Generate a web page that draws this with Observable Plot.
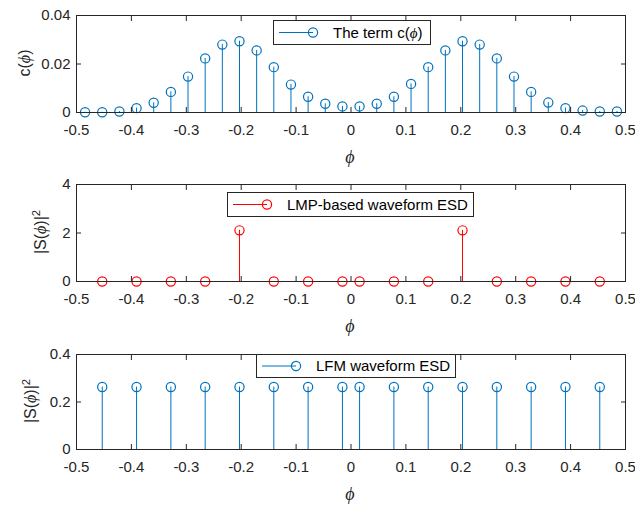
<!DOCTYPE html>
<html>
<head>
<meta charset="utf-8">
<script src="https://cdn.jsdelivr.net/npm/d3@7"></script>
<script src="https://cdn.jsdelivr.net/npm/@observablehq/plot@0.6"></script>
<style>
  html, body { margin: 0; padding: 0; background: #fff; }
  #chart { position: relative; width: 635px; height: 507px; overflow: hidden; font-family: "Liberation Sans", Arial, sans-serif; }
  #chart svg.plot { position: absolute; left: 0; display: block; }
  .ylab { position: absolute; transform: translate(-50%, -50%) rotate(-90deg); white-space: nowrap; font-size: 16px; color: #262626; }
  .xlab { position: absolute; transform: translate(-50%, -50%); font-size: 18px; color: #262626; }
  .phi { font-family: "Liberation Serif", "DejaVu Serif", serif; font-style: italic; }
  .ylab sup { font-size: 0.7em; }
  .legend { position: absolute; box-sizing: border-box; border: 1px solid #262626; background: #fff; font-size: 15px; color: #000; }
  .legend svg { position: absolute; left: 0; top: 0; }
  .legend span.t { position: absolute; left: 59px; top: 50%; transform: translateY(-52%); white-space: nowrap; }
</style>
</head>
<body>
<div id="chart"></div>
<script>
// ---- data ----
const phiC = [-0.484375, -0.453125, -0.421875, -0.390625, -0.359375, -0.328125, -0.296875, -0.265625,
  -0.234375, -0.203125, -0.171875, -0.140625, -0.109375, -0.078125, -0.046875, -0.015625,
  0.015625, 0.046875, 0.078125, 0.109375, 0.140625, 0.171875, 0.203125, 0.234375,
  0.265625, 0.296875, 0.328125, 0.359375, 0.390625, 0.421875, 0.453125, 0.484375];
const cVals = [0.0001, 0.0001, 0.0004, 0.0018, 0.0040, 0.0085, 0.0148, 0.0223,
  0.0280, 0.0294, 0.0256, 0.0187, 0.0115, 0.0065, 0.0036, 0.0025,
  0.0025, 0.0036, 0.0065, 0.0118, 0.0187, 0.0256, 0.0294, 0.0280,
  0.0223, 0.0148, 0.0085, 0.0041, 0.0018, 0.0008, 0.0004, 0.0004];
const phiS = [-0.453125, -0.390625, -0.328125, -0.265625, -0.203125, -0.140625, -0.078125, -0.015625,
  0.015625, 0.078125, 0.140625, 0.203125, 0.265625, 0.328125, 0.390625, 0.453125];
const lmpVals = [0, 0, 0, 0, 2.11, 0, 0, 0, 0, 0, 0, 2.11, 0, 0, 0, 0];
const lfmVals = [0.263, 0.263, 0.263, 0.263, 0.263, 0.263, 0.263, 0.263,
  0.263, 0.263, 0.263, 0.263, 0.263, 0.263, 0.263, 0.263];

const xTicks = [-0.5, -0.4, -0.3, -0.2, -0.1, 0, 0.1, 0.2, 0.3, 0.4, 0.5];
const xTickLabels = ["-0.5", "-0.4", "-0.3", "-0.2", "-0.1", "0", "0.1", "0.2", "0.3", "0.4", "0.5"];
const yTicks1 = [0, 0.02, 0.04], yTickLabels1 = ["0", "0.02", "0.04"];
const yTicks2 = [0, 2, 4], yTickLabels2 = ["0", "2", "4"];
const yTicks3 = [0, 0.2, 0.4], yTickLabels3 = ["0", "0.2", "0.4"];

const legend1 = "The term c(<span class='phi'>ϕ</span>)";
const legend2 = "LMP-based waveform ESD";
const legend3 = "LFM waveform ESD";

const BLUE = "#0072BD", RED = "#FF0000", AX = "#262626";

// ---- build ----
const chart = document.getElementById("chart");

function panel({phi, vals, color, yDomain, yTicks, yLabels, top, height, mt, mb}) {
  const data = phi.map((p, i) => ({phi: p, v: vals[i]}));
  const xf = d => xTickLabels[xTicks.indexOf(d)];
  const yf = d => yLabels[yTicks.indexOf(d)];
  const blank = () => "";
  const svg = Plot.plot({
    width: 635, height,
    marginTop: mt, marginBottom: mb, marginLeft: 76, marginRight: 10,
    x: {domain: [-0.5, 0.5]},
    y: {domain: yDomain},
    style: {fontFamily: "'Liberation Sans', Arial, sans-serif", fontSize: "15px", color: AX, background: "transparent", overflow: "visible"},
    marks: [
      Plot.ruleX(data, {x: "phi", y: "v", stroke: color, strokeWidth: 1}),
      Plot.dot(data, {x: "phi", y: "v", r: 4.6, stroke: color, strokeWidth: 1.2, fill: "none"}),
      Plot.frame({stroke: AX, strokeWidth: 1}),
      Plot.axisX(xTicks, {anchor: "bottom", tickSize: 0, tickPadding: 12, tickFormat: xf, label: null, fill: AX}),
      Plot.axisX(xTicks, {anchor: "bottom", tickSize: -5, tickFormat: blank, label: null, stroke: AX}),
      Plot.axisX(xTicks, {anchor: "top", tickSize: -5, tickFormat: blank, label: null, stroke: AX}),
      Plot.axisY(yTicks, {anchor: "left", tickSize: 0, tickPadding: 6, tickFormat: yf, label: null, fill: AX}),
      Plot.axisY(yTicks, {anchor: "left", tickSize: -5, tickFormat: blank, label: null, stroke: AX}),
      Plot.axisY(yTicks, {anchor: "right", tickSize: -5, tickFormat: blank, label: null, stroke: AX})
    ]
  });
  svg.classList.add("plot");
  svg.style.top = top + "px";
  chart.appendChild(svg);
}

panel({phi: phiC, vals: cVals, color: BLUE, yDomain: [0, 0.04], yTicks: yTicks1, yLabels: yTickLabels1, top: 0, height: 169, mt: 15, mb: 57});
panel({phi: phiS, vals: lmpVals, color: RED, yDomain: [0, 4], yTicks: yTicks2, yLabels: yTickLabels2, top: 169, height: 169, mt: 15, mb: 57});
panel({phi: phiS, vals: lfmVals, color: BLUE, yDomain: [0, 0.4], yTicks: yTicks3, yLabels: yTickLabels3, top: 338, height: 169, mt: 16, mb: 58});

function addHTML(cls, html, css) {
  const d = document.createElement("div");
  d.className = cls;
  d.innerHTML = html;
  Object.assign(d.style, css);
  chart.appendChild(d);
  return d;
}

// axis titles
addHTML("ylab", "c(<span class='phi'>ϕ</span>)", {left: "25px", top: "63px"});
addHTML("ylab", "|S(<span class='phi'>ϕ</span>)|<sup>2</sup>", {left: "40px", top: "232px"});
addHTML("ylab", "|S(<span class='phi'>ϕ</span>)|<sup>2</sup>", {left: "30px", top: "401px"});
addHTML("xlab", "<span class='phi'>ϕ</span>", {left: "350px", top: "157px"});
addHTML("xlab", "<span class='phi'>ϕ</span>", {left: "350px", top: "326px"});
addHTML("xlab", "<span class='phi'>ϕ</span>", {left: "350px", top: "494px"});

// legends
function legend(text, color, box) {
  const d = addHTML("legend", "", {left: box.left + "px", top: box.top + "px", width: box.w + "px", height: box.h + "px"});
  const cy = box.h / 2 - 1;
  const s = d3.create("svg").attr("width", 56).attr("height", box.h);
  s.append("line").attr("x1", 5).attr("x2", 39).attr("y1", cy).attr("y2", cy).attr("stroke", color).attr("stroke-width", 1);
  s.append("circle").attr("cx", 39).attr("cy", cy).attr("r", 4.6).attr("fill", "none").attr("stroke", color).attr("stroke-width", 1.2);
  d.appendChild(s.node());
  const t = document.createElement("span");
  t.className = "t";
  t.innerHTML = text;
  d.appendChild(t);
}
legend(legend1, BLUE, {left: 273, top: 20, w: 158, h: 25});
legend(legend2, RED, {left: 227, top: 192, w: 247, h: 25});
legend(legend3, BLUE, {left: 256, top: 354, w: 200, h: 24});
</script>
</body>
</html>
